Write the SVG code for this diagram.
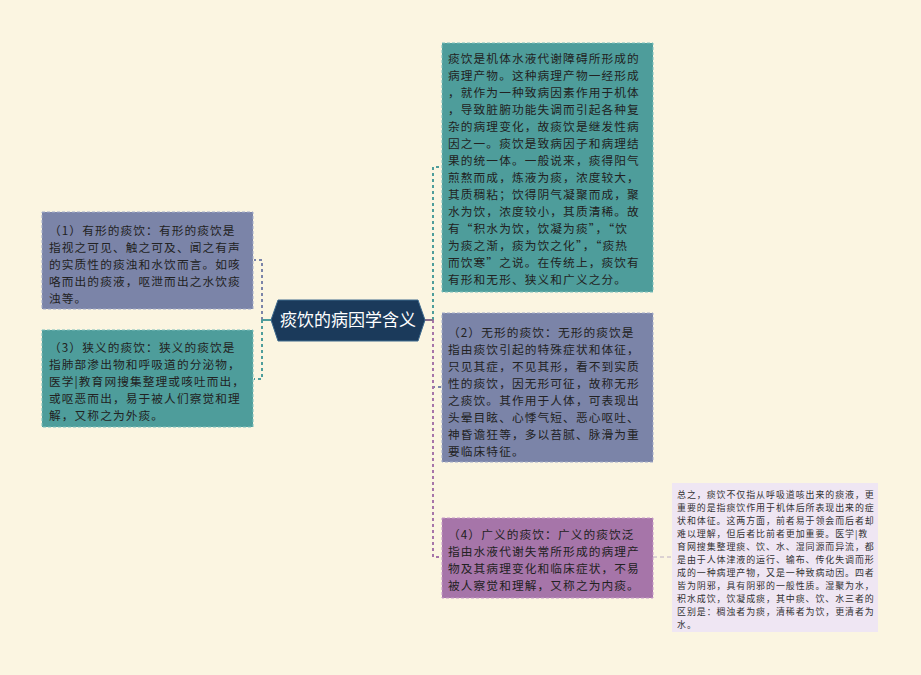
<svg xmlns="http://www.w3.org/2000/svg" width="921" height="675" viewBox="0 0 921 675">
<style>
text{font-family:"Noto Sans CJK SC","Microsoft YaHei",sans-serif}
.t{font-size:11.7px;letter-spacing:1.1px;fill:#222}
.s{font-size:8.95px;letter-spacing:0.95px;fill:#333}
.c{font-size:17px;fill:#fff}
.conn{fill:none;stroke-width:2;stroke-dasharray:3 3}
.teal{fill:#4e9d9b;stroke:#7cc0bd;stroke-width:1;stroke-dasharray:3 2}
.slate{fill:#7b84a8;stroke:#a3abc9;stroke-width:1;stroke-dasharray:3 2}
.purp{fill:#a675a9;stroke:#c69ac8;stroke-width:1;stroke-dasharray:3 2}
</style>
<rect width="921" height="675" fill="#fbf5e1"/>
<g id="connectors">
<path class="conn" d="M262 320 V260 H254" stroke="#7b84a8"/>
<path class="conn" d="M262 320 V379 H254" stroke="#4e9d9b"/>
<path d="M271 320 H262" stroke="#4e9d9b" stroke-width="2"/>
<path class="conn" d="M433 320 V167 H441" stroke="#4e9d9b"/>
<path class="conn" d="M433 320 V387 H441" stroke="#7b84a8"/>
<path class="conn" d="M433 320 V557 H441" stroke="#a675a9"/>
<path d="M424 320 H433" stroke="#8a6f8c" stroke-width="2"/>
<path d="M653 557 H672" stroke="#bcaec4" stroke-width="1" stroke-dasharray="4 3" fill="none"/>
</g>
<g id="center">
<polygon points="271,320 278,300 418,300 425,320 418,341 278,341" fill="#1b3a5b" stroke="#3e6a8e" stroke-width="1"/>
<text class="c" x="348" y="326" text-anchor="middle">痰饮的病因学含义</text>
</g>
<g id="node-left-1">
<rect class="slate" x="42" y="212" width="211" height="97"/>
<text class="t"><tspan x="49" y="235">（1）有形的痰饮：有形的痰饮是</tspan><tspan x="49" y="252">指视之可见、触之可及、闻之有声</tspan><tspan x="49" y="269">的实质性的痰浊和水饮而言。如咳</tspan><tspan x="49" y="286">咯而出的痰液，呕泄而出之水饮痰</tspan><tspan x="49" y="303">浊等。</tspan></text>
</g>
<g id="node-left-3">
<rect class="teal" x="42" y="330" width="211" height="97"/>
<text class="t"><tspan x="49" y="352">（3）狭义的痰饮：狭义的痰饮是</tspan><tspan x="49" y="369">指肺部渗出物和呼吸道的分泌物，</tspan><tspan x="49" y="386">医学|教育网搜集整理或咳吐而出，</tspan><tspan x="49" y="403">或呕恶而出，易于被人们察觉和理</tspan><tspan x="49" y="420">解，又称之为外痰。</tspan></text>
</g>
<g id="node-right-main">
<rect class="teal" x="442" y="43" width="211" height="249"/>
<text class="t"><tspan x="448" y="63">痰饮是机体水液代谢障碍所形成的</tspan><tspan x="448" y="80">病理产物。这种病理产物一经形成</tspan><tspan x="448" y="97">，就作为一种致病因素作用于机体</tspan><tspan x="448" y="114">，导致脏腑功能失调而引起各种复</tspan><tspan x="448" y="131">杂的病理变化，故痰饮是继发性病</tspan><tspan x="448" y="148">因之一。痰饮是致病因子和病理结</tspan><tspan x="448" y="165">果的统一体。一般说来，痰得阳气</tspan><tspan x="448" y="182">煎熬而成，炼液为痰，浓度较大，</tspan><tspan x="448" y="199">其质稠粘；饮得阴气凝聚而成，聚</tspan><tspan x="448" y="216">水为饮，浓度较小，其质清稀。故</tspan><tspan x="448" y="233">有“积水为饮，饮凝为痰”，“饮</tspan><tspan x="448" y="250">为痰之渐，痰为饮之化”，“痰热</tspan><tspan x="448" y="267">而饮寒”之说。在传统上，痰饮有</tspan><tspan x="448" y="284">有形和无形、狭义和广义之分。</tspan></text>
</g>
<g id="node-right-2">
<rect class="slate" x="442" y="313" width="211" height="149"/>
<text class="t"><tspan x="448" y="337">（2）无形的痰饮：无形的痰饮是</tspan><tspan x="448" y="354">指由痰饮引起的特殊症状和体征，</tspan><tspan x="448" y="371">只见其症，不见其形，看不到实质</tspan><tspan x="448" y="388">性的痰饮，因无形可征，故称无形</tspan><tspan x="448" y="405">之痰饮。其作用于人体，可表现出</tspan><tspan x="448" y="422">头晕目眩、心悸气短、恶心呕吐、</tspan><tspan x="448" y="439">神昏谵狂等，多以苔腻、脉滑为重</tspan><tspan x="448" y="456">要临床特征。</tspan></text>
</g>
<g id="node-right-4">
<rect class="purp" x="442" y="518" width="211" height="80"/>
<text class="t"><tspan x="448" y="539">（4）广义的痰饮：广义的痰饮泛</tspan><tspan x="448" y="556">指由水液代谢失常所形成的病理产</tspan><tspan x="448" y="573">物及其病理变化和临床症状，不易</tspan><tspan x="448" y="590">被人察觉和理解，又称之为内痰。</tspan></text>
</g>
<g id="note">
<rect x="672" y="483" width="206" height="149" fill="#efe6f3"/>
<text class="s"><tspan x="677" y="498">总之，痰饮不仅指从呼吸道咳出来的痰液，更</tspan><tspan x="677" y="511">重要的是指痰饮作用于机体后所表现出来的症</tspan><tspan x="677" y="524">状和体征。这两方面，前者易于领会而后者却</tspan><tspan x="677" y="537">难以理解，但后者比前者更加重要。医学|教</tspan><tspan x="677" y="550">育网搜集整理痰、饮、水、湿同源而异流，都</tspan><tspan x="677" y="563">是由于人体津液的运行、输布、传化失调而形</tspan><tspan x="677" y="576">成的一种病理产物，又是一种致病动因。四者</tspan><tspan x="677" y="589">皆为阴邪，具有阴邪的一般性质。湿聚为水，</tspan><tspan x="677" y="602">积水成饮，饮凝成痰，其中痰、饮、水三者的</tspan><tspan x="677" y="615">区别是：稠浊者为痰，清稀者为饮，更清者为</tspan><tspan x="677" y="628">水。</tspan></text>
</g>
</svg>
